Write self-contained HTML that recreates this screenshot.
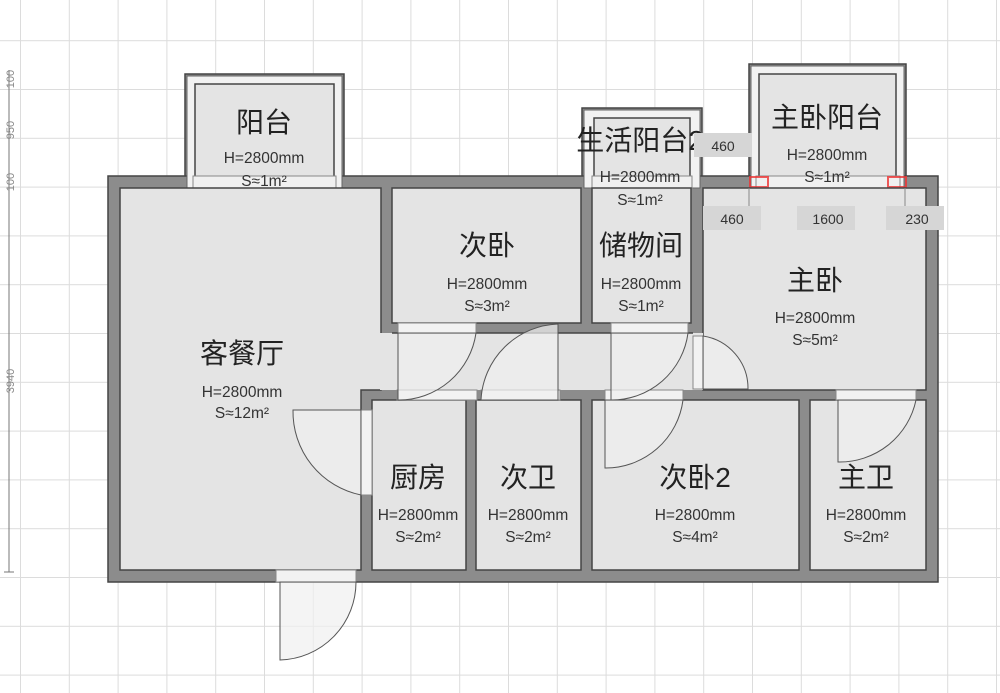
<!DOCTYPE html>
<html><head><meta charset="utf-8"><style>
html,body{margin:0;padding:0;background:#fff;}
svg{display:block;}
text{font-family:"Liberation Sans","Noto Sans CJK SC",sans-serif;fill:#222;text-anchor:middle;}
.n{font-size:28px;}
.h{font-size:15.5px;fill:#333;}
.d{font-size:14px;fill:#333;}
</style></head><body>
<svg width="1000" height="693" viewBox="0 0 1000 693" xmlns="http://www.w3.org/2000/svg">
<defs>
<pattern id="g" x="20" y="40.2" width="48.8" height="48.8" patternUnits="userSpaceOnUse">
<path d="M0 0H48.8M0 0V48.8" stroke="#dcdcdc" stroke-width="2" fill="none"/>
</pattern>
</defs>
<rect width="1000" height="693" fill="#fff"/>
<rect width="1000" height="693" fill="url(#g)"/>

<g stroke="#777" stroke-width="1">
<line x1="9" y1="70" x2="9" y2="572"/>
<line x1="4" y1="572" x2="14" y2="572"/>
</g>
<g font-size="11">
<text x="14" y="79" transform="rotate(-90 14 79)" style="fill:#888">100</text>
<text x="14" y="130" transform="rotate(-90 14 130)" style="fill:#888">950</text>
<text x="14" y="182" transform="rotate(-90 14 182)" style="fill:#888">100</text>
<text x="14" y="381" transform="rotate(-90 14 381)" style="fill:#888">3940</text>
</g>

<g fill="#8c8c8c" stroke="#444" stroke-width="1.5">
<rect x="185" y="74" width="159" height="114"/>
<rect x="582" y="108" width="120" height="80"/>
<rect x="749" y="64" width="157" height="124"/>
<rect x="108" y="176" width="830" height="406"/>
</g>
<g fill="#f2f2f2" stroke="#666" stroke-width="1">
<rect x="187" y="76" width="155" height="112"/>
<rect x="584" y="110" width="116" height="78"/>
<rect x="751" y="66" width="153" height="122"/>
</g>
<g fill="#e4e4e4" stroke="#444" stroke-width="1.5">
<rect x="195" y="84" width="139" height="96"/>
<rect x="594" y="118" width="96" height="62"/>
<rect x="759" y="74" width="137" height="106"/>
</g>
<g fill="#f0f0f0" stroke="#888" stroke-width="1">
<rect x="193" y="176" width="143" height="12"/>
<rect x="592" y="176" width="100" height="12"/>
<rect x="756" y="176" width="144" height="12"/>
</g>
<g fill="none" stroke="#e33" stroke-width="2" opacity="0.8">
<rect x="750" y="177" width="18" height="10"/>
<rect x="888" y="177" width="18" height="10"/>
</g>

<g fill="#e4e4e4" stroke="#444" stroke-width="1.5">
<path d="M120 188H381V390H361V570H120Z"/>
<rect x="392" y="188" width="189" height="135"/>
<rect x="592" y="188" width="99" height="135"/>
<rect x="703" y="188" width="223" height="202"/>
<rect x="372" y="400" width="94" height="170"/>
<rect x="476" y="400" width="105" height="170"/>
<rect x="592" y="400" width="207" height="170"/>
<rect x="810" y="400" width="116" height="170"/>
</g>
<rect x="380" y="333" width="323" height="57" fill="#e4e4e4"/>
<line x1="392" y1="333" x2="693" y2="333" stroke="#444" stroke-width="1.5"/>

<g fill="#f2f2f2" stroke="#888" stroke-width="1">
<rect x="398" y="323" width="78" height="10"/>
<rect x="611" y="323" width="77" height="10"/>
<rect x="397" y="390" width="80" height="10"/>
<rect x="481" y="390" width="79" height="10"/>
<rect x="605" y="390" width="78" height="10"/>
<rect x="836" y="390" width="80" height="10"/>
<rect x="693" y="336" width="10" height="53"/>
<rect x="361" y="410" width="11" height="85"/>
<rect x="276" y="570" width="80" height="12"/>
</g>
<g fill="#f0f0f0" fill-opacity="0.7" stroke="#555" stroke-width="1">
<path d="M398 333V400A78 78 0 0 0 476 333Z"/>
<path d="M611 333V400A77 77 0 0 0 688 333Z"/>
<path d="M558 324A80 80 0 0 0 481 400H558Z"/>
<path d="M605 400V468A78 78 0 0 0 683 400Z"/>
<path d="M838 400V462A78 78 0 0 0 916 400Z"/>
<path d="M703 336A53 53 0 0 1 748 389H703Z"/>
<path d="M361 410H293A85 85 0 0 0 361 495Z"/>
<path d="M280 582V660A78 78 0 0 0 356 582Z"/>
</g>

<text class="n" x="264" y="132">阳台</text>
<text class="h" x="264" y="163">H=2800mm</text>
<text class="h" x="264" y="186">S≈1m²</text>

<text class="n" x="640" y="150">生活阳台2</text>
<text class="h" x="640" y="182">H=2800mm</text>
<text class="h" x="640" y="205">S≈1m²</text>

<text class="n" x="827" y="127">主卧阳台</text>
<text class="h" x="827" y="160">H=2800mm</text>
<text class="h" x="827" y="182">S≈1m²</text>

<text class="n" x="487" y="255">次卧</text>
<text class="h" x="487" y="289">H=2800mm</text>
<text class="h" x="487" y="311">S≈3m²</text>

<text class="n" x="641" y="255">储物间</text>
<text class="h" x="641" y="289">H=2800mm</text>
<text class="h" x="641" y="311">S≈1m²</text>

<text class="n" x="815" y="290">主卧</text>
<text class="h" x="815" y="323">H=2800mm</text>
<text class="h" x="815" y="345">S≈5m²</text>

<text class="n" x="242" y="363">客餐厅</text>
<text class="h" x="242" y="397">H=2800mm</text>
<text class="h" x="242" y="418">S≈12m²</text>

<text class="n" x="418" y="487">厨房</text>
<text class="h" x="418" y="520">H=2800mm</text>
<text class="h" x="418" y="542">S≈2m²</text>

<text class="n" x="528" y="487">次卫</text>
<text class="h" x="528" y="520">H=2800mm</text>
<text class="h" x="528" y="542">S≈2m²</text>

<text class="n" x="695" y="487">次卧2</text>
<text class="h" x="695" y="520">H=2800mm</text>
<text class="h" x="695" y="542">S≈4m²</text>

<text class="n" x="866" y="487">主卫</text>
<text class="h" x="866" y="520">H=2800mm</text>
<text class="h" x="866" y="542">S≈2m²</text>

<g fill="#d6d6d6">
<rect x="694" y="133" width="58" height="24"/>
<rect x="703" y="206" width="58" height="24"/>
<rect x="797" y="206" width="58" height="24"/>
<rect x="886" y="206" width="58" height="24"/>
</g>
<line x1="749" y1="188" x2="749" y2="206" stroke="#888"/>
<line x1="905" y1="188" x2="905" y2="206" stroke="#888"/>
<text class="d" x="723" y="151">460</text>
<text class="d" x="732" y="224">460</text>
<text class="d" x="828" y="224">1600</text>
<text class="d" x="917" y="224">230</text>
</svg>
</body></html>
